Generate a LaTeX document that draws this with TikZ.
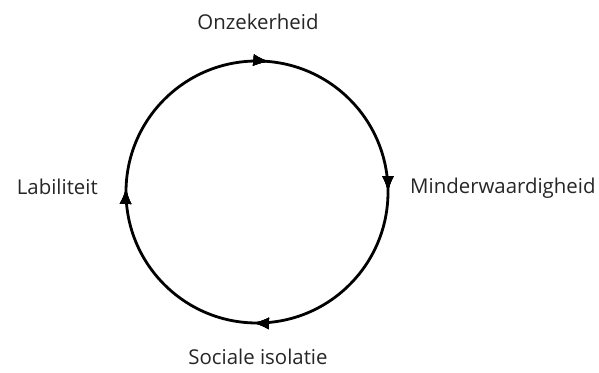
\documentclass[tikz,border=0pt]{standalone}
\usepackage{fontspec}
\setmainfont{Open Sans}
\usetikzlibrary{arrows.meta,decorations.markings}
\begin{document}
\begin{tikzpicture}[x=1pt,y=1pt]
\tikzset{lbl/.style={inner sep=0pt, font=\fontsize{20.4}{24}\selectfont, text=black!85},
  tip/.style={decoration={markings, mark=at position #1 with {\arrow{Latex[length=16pt,width=12pt]}}}, postaction=decorate}}
\useasboundingbox (0,0) rectangle (599,372);
\coordinate (O) at (257,180);
\draw[line width=2.8pt, tip=0.015, tip=0.25, tip=0.505, tip=0.755]
  (O) ++(0,131) arc[start angle=90, end angle=-270, radius=131];
\node[lbl] (top) at (258,350) {Onzekerheid};
\node[lbl, anchor=west] (right) at (410,184) {Minderwaardigheid};
\node[lbl] (bottom) at (258,15) {Sociale isolatie};
\node[lbl, anchor=east] (left) at (98,185) {Labiliteit};
\end{tikzpicture}
\end{document}
